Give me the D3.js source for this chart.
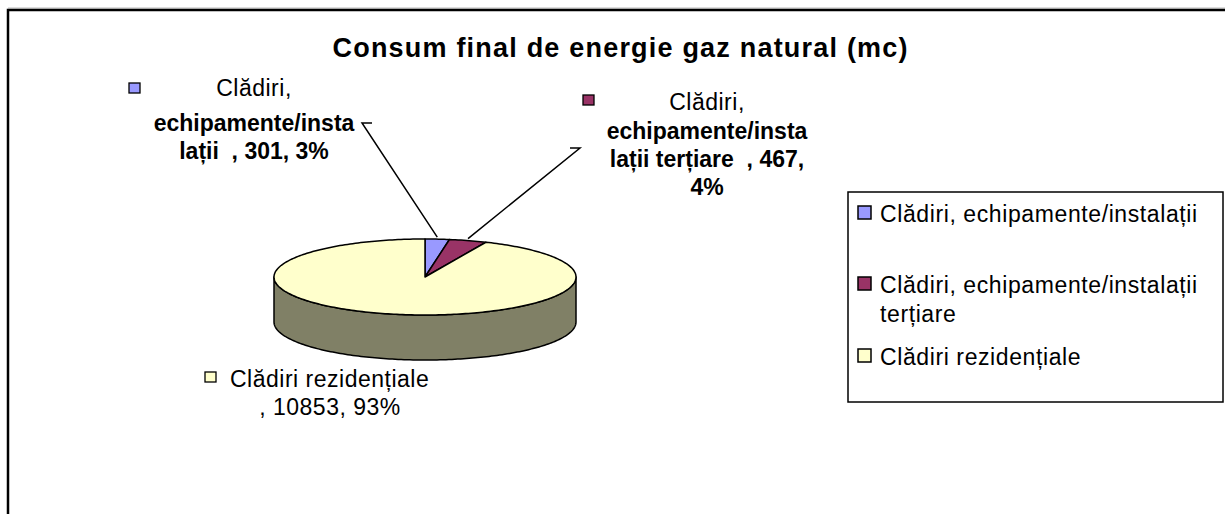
<!DOCTYPE html>
<html><head><meta charset="utf-8">
<script src="https://cdn.jsdelivr.net/npm/d3@7"></script>
<style>
html,body{margin:0;padding:0;background:#fff;}
svg{display:block;}
text{font-family:Arial,"Liberation Sans",sans-serif;white-space:pre;}
</style></head>
<body>
<svg id="chart" width="1225" height="514"></svg>
<script>
// ---- data ----
const categories = ["Clădiri, echipamente/instalații", "Clădiri, echipamente/instalații terțiare", "Clădiri rezidențiale"];
const values = [301, 467, 10853];
const percents = ["3%", "4%", "93%"];
const colors = ["#9999FF", "#993366", "#FFFFCC"];
const title = "Consum final de energie gaz natural (mc)";
const legendLines = [["Clădiri, echipamente/instalații"], ["Clădiri, echipamente/instalații", "terțiare"], ["Clădiri rezidențiale"]];

// ---- layout ----
const svg = d3.select("#chart");
const W = 1225, H = 514;
const cx = 425, cy = 277, rx = 151, ry = 38, depth = 45;
const FS = 23;

// outer frame
svg.append("line").attr("x1", 8).attr("x2", W).attr("y1", 8).attr("y2", 8).attr("stroke", "#bbb").attr("stroke-width", 1);
svg.append("rect").attr("x", 8).attr("y", 10).attr("width", W + 20).attr("height", H + 20)
  .attr("fill", "none").attr("stroke", "#000").attr("stroke-width", 2.5);

// title
svg.append("text").attr("x", 620).attr("y", 57).attr("text-anchor", "middle")
  .attr("font-size", 27).attr("font-weight", "bold").attr("textLength", 575).attr("lengthAdjust", "spacing")
  .text(title);

// pie
const arcs = d3.pie().sort(null).value(d => d)(values);
const pt = (a, dy = 0) => [cx + rx * Math.sin(a), cy - ry * Math.cos(a) + dy];
function arcPts(a0, a1, dy = 0) {
  const n = Math.max(2, Math.ceil((a1 - a0) / 0.02));
  return d3.range(n + 1).map(i => pt(a0 + (a1 - a0) * i / n, dy));
}
const line = d3.line();
const shade = c => { const r = d3.rgb(c); return d3.rgb(r.r * 0.5, r.g * 0.5, r.b * 0.5).toString(); };

const g = svg.append("g");
// sides (front half)
arcs.forEach((a, i) => {
  const a0 = Math.max(a.startAngle, Math.PI / 2), a1 = Math.min(a.endAngle, 3 * Math.PI / 2);
  if (a0 < a1) {
    const top = arcPts(a0, a1), bot = arcPts(a0, a1, depth).reverse();
    g.append("path").attr("d", line(top.concat(bot)) + "Z")
      .attr("fill", shade(colors[i])).attr("stroke", "#000").attr("stroke-width", 1.5).attr("stroke-linejoin", "round");
  }
});
// top faces
arcs.forEach((a, i) => {
  const pts = [[cx, cy]].concat(arcPts(a.startAngle, a.endAngle));
  g.append("path").attr("d", line(pts) + "Z")
    .attr("fill", colors[i]).attr("stroke", "#000").attr("stroke-width", 1.5).attr("stroke-linejoin", "round");
});

// data labels
const labelLayout = [
  { sq: [129, 83], cxT: 254, lines: [["Clădiri,", false, 96], ["echipamente/insta", true, 131], ["lații  , " + values[0] + ", " + percents[0], true, 159]], leader: [[362, 123], [372, 123]] },
  { sq: [583, 95], cxT: 707, lines: [["Clădiri,", false, 110], ["echipamente/insta", true, 139], ["lații terțiare  , " + values[1] + ",", true, 167], [percents[1], true, 195]], leader: [[580, 148], [570, 148]] },
  { sq: [205, 372], cxT: 330, lines: [["Clădiri rezidențiale", false, 387, 230], [", " + values[2] + ", " + percents[2], false, 415]], leader: null }
];
labelLayout.forEach((L, i) => {
  svg.append("rect").attr("x", L.sq[0]).attr("y", L.sq[1]).attr("width", 11).attr("height", 10)
    .attr("fill", colors[i]).attr("stroke", "#000").attr("stroke-width", 1.3);
  L.lines.forEach(l => {
    const t = svg.append("text").attr("y", l[2]).attr("font-size", FS)
      .attr("font-weight", l[1] ? "bold" : "normal").attr("letter-spacing", l[1] ? 0 : 0.5).text(l[0]);
    if (l[3] !== undefined) t.attr("x", l[3]); else t.attr("x", L.cxT).attr("text-anchor", "middle");
  });
  if (L.leader) {
    const mid = (arcs[i].startAngle + arcs[i].endAngle) / 2;
    const p = pt(mid, -2);
    svg.append("path").attr("d", line([L.leader[1], L.leader[0], p]))
      .attr("fill", "none").attr("stroke", "#000").attr("stroke-width", 1.5);
  }
});

// legend
svg.append("rect").attr("x", 848).attr("y", 192).attr("width", 375).attr("height", 210)
  .attr("fill", "#fff").attr("stroke", "#000").attr("stroke-width", 1.5);
const legY = [222, 293, 365];
legendLines.forEach((ls, i) => {
  svg.append("rect").attr("x", 858).attr("y", legY[i] - 16).attr("width", 13).attr("height", 13)
    .attr("fill", colors[i]).attr("stroke", "#000").attr("stroke-width", 1.5);
  ls.forEach((s, j) => {
    svg.append("text").attr("x", 880).attr("y", legY[i] + j * 29).attr("font-size", FS)
      .attr("letter-spacing", 0.6).text(s);
  });
});
</script>
</body></html>
